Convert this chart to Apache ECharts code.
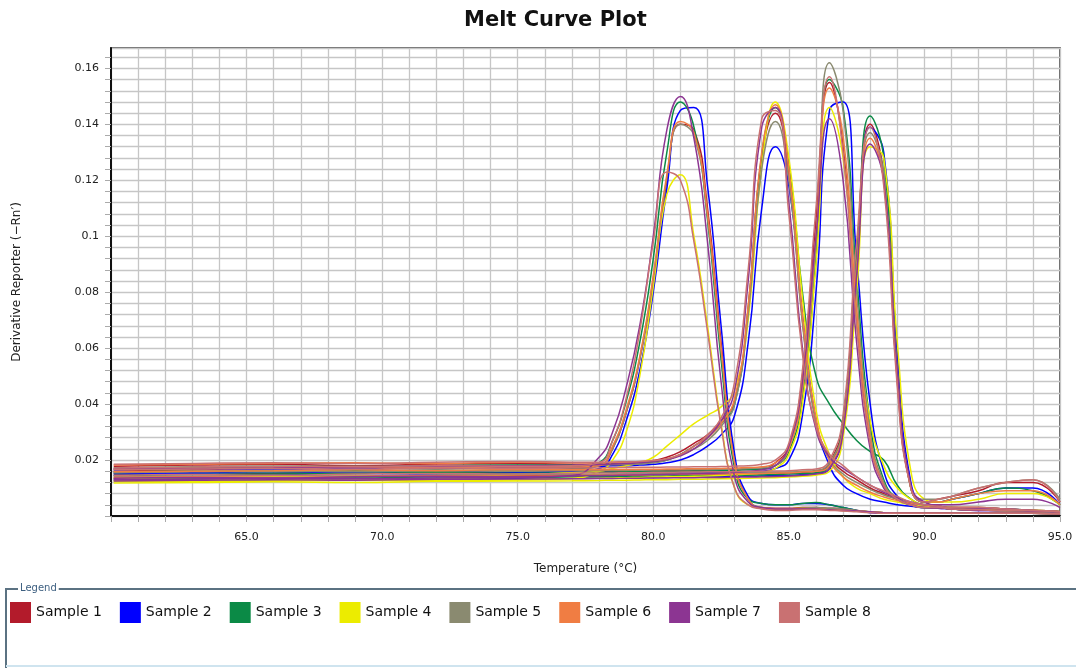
<!DOCTYPE html>
<html lang="en">
<head>
<meta charset="UTF-8">
<title>Melt Curve Plot</title>
<script src="https://cdn.jsdelivr.net/npm/echarts@6/dist/echarts.min.js"></script>
<style>
  html, body { margin: 0; padding: 0; background: #fff; }
  #chart { width: 1076px; height: 668px; }
</style>
</head>
<body>
<div id="chart"></div>
<script>
// temperature points (°C) shared by every curve
var temps = [60.1, 63, 66, 69, 72, 75, 77,
  78, 78.5, 79, 79.5, 80, 80.5, 81, 81.5, 82, 82.5,
  83, 83.5, 84, 84.5, 85, 85.5, 86, 86.5, 87, 87.5,
  88, 88.5, 89, 89.5, 90,
  90.5, 91, 92, 93, 94, 95];

var sampleNames = ['Sample 1', 'Sample 2', 'Sample 3', 'Sample 4', 'Sample 5', 'Sample 6', 'Sample 7', 'Sample 8'];
var sampleColors = ['#b31b2b', '#0000ff', '#0b8a46', '#ecec00', '#8a8a70', '#f07d43', '#8c3592', '#c97172'];

// derivative reporter per sample, one row per assay (peaks near 81, 84.4, 86.6, 88)
var sample1 = [
  [0.016, 0.0165, 0.017, 0.0168, 0.0172, 0.0175, 0.0172,
   0.018, 0.024, 0.037, 0.056, 0.084, 0.120, 0.140, 0.138, 0.110, 0.062,
   0.020, 0.006, 0.003, 0.0028, 0.0028, 0.003, 0.003, 0.0028, 0.0025, 0.002,
   0.0015, 0.0012, 0.001, 0.001, 0.001,
   0.001, 0.001, 0.001, 0.001, 0.001, 0.0008],
  [0.0178, 0.0182, 0.0185, 0.018, 0.0186, 0.0188, 0.0185,
   0.0186, 0.0188, 0.019, 0.0192, 0.0198, 0.021, 0.023, 0.026, 0.029, 0.034,
   0.041, 0.074, 0.128, 0.144, 0.122, 0.070, 0.034, 0.021, 0.016, 0.013,
   0.010, 0.008, 0.006, 0.0045, 0.004,
   0.0035, 0.003, 0.003, 0.0025, 0.002, 0.0015],
  [0.015, 0.0148, 0.0152, 0.0155, 0.0153, 0.0156, 0.0158,
   0.0158, 0.016, 0.016, 0.016, 0.0162, 0.0162, 0.0163, 0.0163, 0.0164, 0.0165,
   0.0166, 0.0168, 0.017, 0.019, 0.025, 0.050, 0.106, 0.155, 0.132, 0.070,
   0.027, 0.011, 0.006, 0.004, 0.003,
   0.003, 0.0025, 0.0022, 0.002, 0.002, 0.0015],
  [0.0135, 0.0138, 0.0136, 0.014, 0.0142, 0.0145, 0.0145,
   0.0146, 0.0146, 0.0147, 0.0147, 0.0148, 0.0148, 0.0148, 0.0149, 0.0149, 0.015,
   0.015, 0.015, 0.0151, 0.0152, 0.0153, 0.0156, 0.016, 0.019, 0.034, 0.094,
   0.140, 0.122, 0.048, 0.010, 0.005,
   0.006, 0.007, 0.009, 0.012, 0.012, 0.005]
];
var sample2 = [
  [0.0145, 0.015, 0.0148, 0.0152, 0.015, 0.0155, 0.0158,
   0.017, 0.022, 0.034, 0.052, 0.080, 0.117, 0.145, 0.146, 0.118, 0.068,
   0.022, 0.007, 0.0045, 0.004, 0.004, 0.0045, 0.0045, 0.004, 0.003, 0.002,
   0.0012, 0.001, 0.001, 0.001, 0.001,
   0.001, 0.001, 0.001, 0.001, 0.001, 0.0008],
  [0.0165, 0.017, 0.0168, 0.0172, 0.017, 0.0175, 0.0176,
   0.0178, 0.018, 0.018, 0.0182, 0.0185, 0.019, 0.020, 0.022, 0.025, 0.029,
   0.036, 0.062, 0.110, 0.132, 0.118, 0.072, 0.034, 0.018, 0.011, 0.008,
   0.006, 0.005, 0.004, 0.0035, 0.003,
   0.003, 0.0025, 0.0022, 0.002, 0.0018, 0.0015],
  [0.0152, 0.0155, 0.0158, 0.0155, 0.016, 0.0158, 0.0158,
   0.0156, 0.0156, 0.0155, 0.0155, 0.0155, 0.0154, 0.0154, 0.0154, 0.0155, 0.0155,
   0.0156, 0.0158, 0.016, 0.017, 0.020, 0.036, 0.080, 0.145, 0.148, 0.092,
   0.040, 0.016, 0.007, 0.004, 0.003,
   0.0028, 0.0025, 0.002, 0.002, 0.0018, 0.0015],
  [0.0128, 0.013, 0.0128, 0.0132, 0.0135, 0.0133, 0.0135,
   0.0136, 0.0137, 0.0137, 0.0138, 0.0138, 0.0139, 0.014, 0.014, 0.0141, 0.0141,
   0.0142, 0.0142, 0.0143, 0.0144, 0.0145, 0.0148, 0.0152, 0.017, 0.030, 0.085,
   0.139, 0.130, 0.058, 0.012, 0.005,
   0.005, 0.006, 0.008, 0.010, 0.010, 0.004]
];
var sample3 = [
  [0.0155, 0.016, 0.0158, 0.0162, 0.016, 0.0165, 0.0168,
   0.019, 0.027, 0.041, 0.062, 0.092, 0.130, 0.148, 0.139, 0.106, 0.056,
   0.017, 0.006, 0.0045, 0.004, 0.004, 0.0045, 0.0048, 0.004, 0.003, 0.002,
   0.0015, 0.0012, 0.001, 0.001, 0.001,
   0.001, 0.001, 0.001, 0.001, 0.001, 0.0008],
  [0.0172, 0.0175, 0.0178, 0.0176, 0.018, 0.0182, 0.0182,
   0.0184, 0.0185, 0.0186, 0.0188, 0.0192, 0.020, 0.022, 0.025, 0.028, 0.033,
   0.040, 0.074, 0.129, 0.146, 0.126, 0.080, 0.050, 0.040, 0.033, 0.027,
   0.023, 0.020, 0.011, 0.006, 0.004,
   0.0035, 0.003, 0.0028, 0.0025, 0.002, 0.0015],
  [0.0145, 0.0148, 0.015, 0.0152, 0.0155, 0.0152, 0.0155,
   0.0156, 0.0157, 0.0158, 0.0158, 0.0159, 0.016, 0.016, 0.0161, 0.0161, 0.0162,
   0.0163, 0.0165, 0.0168, 0.018, 0.023, 0.042, 0.092, 0.156, 0.146, 0.085,
   0.033, 0.013, 0.006, 0.004, 0.003,
   0.003, 0.0025, 0.0022, 0.002, 0.002, 0.0015],
  [0.0132, 0.0135, 0.0138, 0.0136, 0.014, 0.0138, 0.014,
   0.0141, 0.0141, 0.0142, 0.0142, 0.0143, 0.0143, 0.0144, 0.0144, 0.0145, 0.0145,
   0.0146, 0.0146, 0.0147, 0.0148, 0.015, 0.0152, 0.0155, 0.018, 0.033, 0.092,
   0.143, 0.128, 0.052, 0.010, 0.005,
   0.005, 0.006, 0.008, 0.010, 0.009, 0.004]
];
var sample4 = [
  [0.0125, 0.0122, 0.0125, 0.0128, 0.0126, 0.013, 0.0135,
   0.016, 0.020, 0.030, 0.050, 0.082, 0.115, 0.122, 0.100, 0.068, 0.033,
   0.010, 0.004, 0.003, 0.0025, 0.0025, 0.0028, 0.0028, 0.0025, 0.002, 0.0018,
   0.0015, 0.0012, 0.001, 0.001, 0.001,
   0.001, 0.001, 0.001, 0.001, 0.001, 0.0008],
  [0.0135, 0.0138, 0.014, 0.0142, 0.0145, 0.0148, 0.0155,
   0.016, 0.017, 0.018, 0.019, 0.021, 0.025, 0.029, 0.033, 0.036, 0.039,
   0.045, 0.070, 0.125, 0.148, 0.128, 0.078, 0.038, 0.022, 0.014, 0.010,
   0.008, 0.006, 0.005, 0.004, 0.0035,
   0.003, 0.003, 0.0025, 0.002, 0.002, 0.0015],
  [0.0125, 0.0128, 0.013, 0.0128, 0.0132, 0.013, 0.0133,
   0.0135, 0.0136, 0.0137, 0.0138, 0.0139, 0.014, 0.0141, 0.0142, 0.0143, 0.0145,
   0.0148, 0.015, 0.0155, 0.017, 0.022, 0.040, 0.090, 0.146, 0.128, 0.072,
   0.034, 0.018, 0.010, 0.006, 0.004,
   0.0035, 0.003, 0.0025, 0.002, 0.002, 0.0015],
  [0.0118, 0.012, 0.0122, 0.012, 0.0124, 0.0125, 0.0126,
   0.0127, 0.0128, 0.0128, 0.0129, 0.013, 0.013, 0.0131, 0.0131, 0.0132, 0.0133,
   0.0134, 0.0135, 0.0136, 0.0137, 0.0139, 0.0142, 0.0146, 0.016, 0.028, 0.080,
   0.132, 0.128, 0.062, 0.016, 0.006,
   0.005, 0.005, 0.006, 0.008, 0.008, 0.004]
];
var sample5 = [
  [0.0158, 0.016, 0.0163, 0.016, 0.0165, 0.0162, 0.0165,
   0.018, 0.024, 0.037, 0.056, 0.085, 0.121, 0.140, 0.136, 0.107, 0.059,
   0.019, 0.006, 0.003, 0.0025, 0.0025, 0.0028, 0.003, 0.0028, 0.0025, 0.002,
   0.0015, 0.0012, 0.001, 0.001, 0.001,
   0.001, 0.001, 0.001, 0.001, 0.001, 0.0008],
  [0.017, 0.0172, 0.0175, 0.0178, 0.0176, 0.018, 0.018,
   0.0182, 0.0183, 0.0184, 0.0186, 0.019, 0.020, 0.022, 0.024, 0.027, 0.032,
   0.040, 0.072, 0.124, 0.141, 0.120, 0.069, 0.033, 0.020, 0.015, 0.012,
   0.0095, 0.0075, 0.006, 0.0045, 0.004,
   0.0035, 0.003, 0.003, 0.0025, 0.002, 0.0015],
  [0.0155, 0.0158, 0.016, 0.0158, 0.0162, 0.016, 0.0162,
   0.0162, 0.0163, 0.0163, 0.0164, 0.0164, 0.0165, 0.0165, 0.0166, 0.0166, 0.0167,
   0.0168, 0.017, 0.0172, 0.018, 0.024, 0.045, 0.098, 0.162, 0.145, 0.080,
   0.030, 0.012, 0.006, 0.004, 0.003,
   0.003, 0.0025, 0.0022, 0.002, 0.002, 0.0015],
  [0.014, 0.0142, 0.0145, 0.0143, 0.0146, 0.0148, 0.0148,
   0.0149, 0.015, 0.015, 0.015, 0.0151, 0.0151, 0.0152, 0.0152, 0.0153, 0.0153,
   0.0154, 0.0154, 0.0155, 0.0156, 0.0157, 0.016, 0.0163, 0.019, 0.032, 0.090,
   0.137, 0.122, 0.050, 0.010, 0.006,
   0.006, 0.007, 0.010, 0.012, 0.013, 0.006]
];
var sample6 = [
  [0.0168, 0.017, 0.0172, 0.0175, 0.0172, 0.0176, 0.0175,
   0.018, 0.025, 0.038, 0.057, 0.086, 0.122, 0.141, 0.137, 0.108, 0.060,
   0.019, 0.006, 0.0028, 0.0025, 0.0025, 0.0025, 0.0025, 0.0022, 0.002, 0.0018,
   0.0015, 0.0012, 0.001, 0.001, 0.001,
   0.001, 0.001, 0.001, 0.001, 0.001, 0.0008],
  [0.0182, 0.0185, 0.0188, 0.019, 0.0188, 0.0192, 0.019,
   0.019, 0.0191, 0.0192, 0.0194, 0.0198, 0.0205, 0.022, 0.025, 0.028, 0.033,
   0.042, 0.075, 0.130, 0.147, 0.124, 0.072, 0.035, 0.020, 0.014, 0.011,
   0.0085, 0.0068, 0.0055, 0.0045, 0.004,
   0.0035, 0.003, 0.003, 0.0025, 0.002, 0.0015],
  [0.0158, 0.016, 0.0162, 0.0165, 0.0162, 0.0166, 0.0165,
   0.0165, 0.0166, 0.0166, 0.0167, 0.0167, 0.0168, 0.0168, 0.0169, 0.0169, 0.017,
   0.0171, 0.0173, 0.0176, 0.019, 0.024, 0.046, 0.100, 0.153, 0.136, 0.074,
   0.028, 0.011, 0.006, 0.004, 0.003,
   0.003, 0.0025, 0.0022, 0.002, 0.002, 0.0015],
  [0.0138, 0.014, 0.0138, 0.0142, 0.0144, 0.0142, 0.0145,
   0.0146, 0.0146, 0.0147, 0.0147, 0.0148, 0.0148, 0.0149, 0.0149, 0.015, 0.015,
   0.0151, 0.0151, 0.0152, 0.0153, 0.0154, 0.0157, 0.016, 0.018, 0.031, 0.088,
   0.135, 0.120, 0.050, 0.010, 0.005,
   0.005, 0.006, 0.008, 0.009, 0.009, 0.004]
];
var sample7 = [
  [0.013, 0.0132, 0.0135, 0.0133, 0.0136, 0.0138, 0.0145,
   0.021, 0.030, 0.046, 0.068, 0.100, 0.138, 0.150, 0.135, 0.098, 0.048,
   0.014, 0.005, 0.003, 0.0025, 0.0025, 0.0025, 0.0025, 0.0022, 0.002, 0.0018,
   0.0015, 0.0012, 0.001, 0.001, 0.001,
   0.001, 0.001, 0.001, 0.001, 0.001, 0.0008],
  [0.0168, 0.017, 0.0172, 0.0175, 0.0178, 0.018, 0.0182,
   0.0184, 0.0186, 0.0188, 0.019, 0.0195, 0.0202, 0.0215, 0.024, 0.028, 0.034,
   0.045, 0.084, 0.139, 0.146, 0.112, 0.060, 0.031, 0.021, 0.017, 0.014,
   0.011, 0.0085, 0.0065, 0.005, 0.004,
   0.0035, 0.003, 0.0028, 0.0025, 0.002, 0.0015],
  [0.0135, 0.0138, 0.0136, 0.014, 0.0142, 0.014, 0.0143,
   0.0144, 0.0145, 0.0146, 0.0147, 0.0148, 0.0149, 0.015, 0.0151, 0.0152, 0.0154,
   0.0156, 0.016, 0.0165, 0.018, 0.025, 0.048, 0.100, 0.142, 0.120, 0.062,
   0.024, 0.010, 0.006, 0.004, 0.003,
   0.0028, 0.0025, 0.002, 0.002, 0.0018, 0.0015],
  [0.0125, 0.0128, 0.013, 0.0128, 0.0131, 0.0132, 0.0133,
   0.0134, 0.0134, 0.0135, 0.0135, 0.0136, 0.0136, 0.0137, 0.0137, 0.0138, 0.0138,
   0.0139, 0.0139, 0.014, 0.0141, 0.0143, 0.0146, 0.015, 0.017, 0.030, 0.086,
   0.133, 0.120, 0.052, 0.011, 0.005,
   0.004, 0.004, 0.005, 0.006, 0.006, 0.003]
];
var sample8 = [
  [0.0172, 0.0175, 0.0178, 0.0176, 0.018, 0.0178, 0.018,
   0.019, 0.027, 0.042, 0.066, 0.098, 0.123, 0.120, 0.098, 0.066, 0.032,
   0.010, 0.004, 0.0025, 0.002, 0.002, 0.0022, 0.0022, 0.002, 0.0018, 0.0015,
   0.0012, 0.001, 0.001, 0.001, 0.001,
   0.001, 0.001, 0.001, 0.001, 0.001, 0.0008],
  [0.0185, 0.0188, 0.019, 0.0188, 0.0192, 0.0195, 0.0192,
   0.0192, 0.0193, 0.0194, 0.0195, 0.0198, 0.0205, 0.022, 0.025, 0.029, 0.035,
   0.048, 0.088, 0.142, 0.145, 0.108, 0.058, 0.032, 0.022, 0.018, 0.014,
   0.011, 0.009, 0.007, 0.005, 0.004,
   0.0035, 0.003, 0.003, 0.0025, 0.002, 0.0015],
  [0.0165, 0.0168, 0.017, 0.0168, 0.0172, 0.017, 0.0172,
   0.0172, 0.0173, 0.0173, 0.0174, 0.0174, 0.0175, 0.0175, 0.0176, 0.0176, 0.0177,
   0.0178, 0.018, 0.0185, 0.020, 0.026, 0.052, 0.110, 0.157, 0.130, 0.068,
   0.026, 0.011, 0.006, 0.004, 0.003,
   0.003, 0.0025, 0.0022, 0.002, 0.002, 0.0015],
  [0.0145, 0.0148, 0.0146, 0.015, 0.0152, 0.015, 0.0153,
   0.0154, 0.0154, 0.0155, 0.0155, 0.0156, 0.0156, 0.0157, 0.0157, 0.0158, 0.0158,
   0.0159, 0.0159, 0.016, 0.0161, 0.0162, 0.0165, 0.0168, 0.020, 0.036, 0.098,
   0.139, 0.118, 0.046, 0.010, 0.005,
   0.006, 0.007, 0.010, 0.012, 0.013, 0.005]
];

var samples = [sample1, sample2, sample3, sample4, sample5, sample6, sample7, sample8];

var series = [];
samples.forEach(function (curves, s) {
  curves.forEach(function (vals) {
    series.push({
      name: sampleNames[s],
      type: 'line',
      data: temps.map(function (t, i) { return [t, vals[i]]; }),
      showSymbol: false,
      smooth: 0.5,
      color: sampleColors[s],
      lineStyle: { width: 1.5, color: sampleColors[s] },
      emphasis: { disabled: true }
    });
  });
});

var font = 'DejaVu Sans, Verdana, sans-serif';
var chart = echarts.init(document.getElementById('chart'));
chart.setOption({
  animation: false,
  backgroundColor: '#fff',
  title: {
    text: 'Melt Curve Plot',
    left: 459, top: 5,
    textStyle: { fontFamily: font, fontSize: 21, fontWeight: 'bold', color: '#111' }
  },
  grid: {
    left: 111, top: 48, right: 16, bottom: 152,
    show: true, borderColor: '#333', borderWidth: 1.5
  },
  xAxis: {
    type: 'value',
    min: 60, max: 95, interval: 1,
    name: 'Temperature (°C)',
    nameLocation: 'middle', nameGap: 47,
    nameTextStyle: { fontFamily: font, fontSize: 12, color: '#222' },
    axisLine: { lineStyle: { color: '#111', width: 2 } },
    axisTick: { show: true, length: 6, lineStyle: { color: '#aaa' } },
    axisLabel: {
      fontFamily: font, fontSize: 11, color: '#222', margin: 16,
      formatter: function (v) { return (Math.abs(v % 5) < 1e-6 && v > 60) ? v.toFixed(1) : ''; }
    },
    splitLine: { show: true, lineStyle: { color: '#c6c6c6', width: 1.3 } }
  },
  yAxis: {
    type: 'value',
    min: 0, max: 0.1673, interval: 0.004,
    name: 'Derivative Reporter (\u2212Rn\u2032)',
    nameLocation: 'middle', nameGap: 88, nameRotate: 90,
    nameTextStyle: { fontFamily: font, fontSize: 12, color: '#222' },
    axisLine: { show: true, lineStyle: { color: '#111', width: 2 } },
    axisTick: { show: true, length: 6, lineStyle: { color: '#aaa' } },
    axisLabel: {
      fontFamily: font, fontSize: 11, color: '#222', margin: 12,
      showMaxLabel: false,
      formatter: function (v) {
        var k = Math.round(v / 0.02);
        if (k > 0 && Math.abs(v - k * 0.02) < 1e-6) return String(+(k * 0.02).toFixed(2));
        return '';
      }
    },
    splitLine: { show: true, lineStyle: { color: '#c6c6c6', width: 1.3 } }
  },
  legend: {
    data: sampleNames,
    left: 5, top: 597,
    icon: 'rect', itemWidth: 21, itemHeight: 21, itemGap: 18,
    textStyle: { fontFamily: font, fontSize: 14, color: '#111' },
    selectedMode: false
  },
  graphic: [
    { type: 'rect', shape: { x: 6, y: 589, width: 1100, height: 120 },
      style: { fill: 'none', stroke: '#5b7282', lineWidth: 2 }, silent: true, z: 0 },
    { type: 'line', shape: { x1: 6, y1: 666, x2: 1076, y2: 666 },
      style: { stroke: '#cfe4ef', lineWidth: 2 }, silent: true, z: 1 },
    { type: 'text', left: 18, top: 583,
      style: { text: 'Legend', fontFamily: font, fontSize: 10, fill: '#3d5f80',
               backgroundColor: '#fff', padding: [0, 2] }, silent: true, z: 2 }
  ],
  series: series
});
</script>
</body>
</html>
